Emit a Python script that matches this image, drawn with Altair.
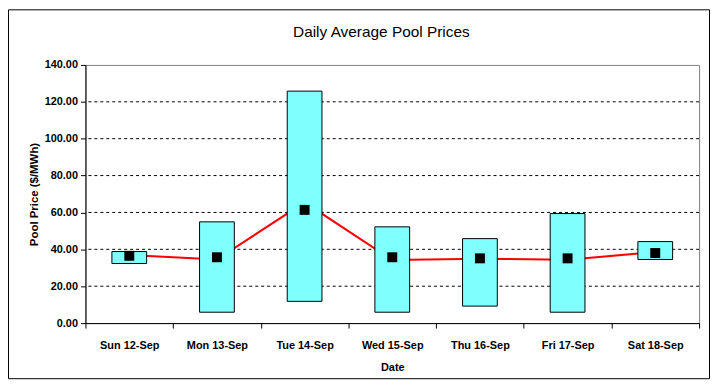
import altair as alt
import pandas as pd

days = ["Sun 12-Sep", "Mon 13-Sep", "Tue 14-Sep", "Wed 15-Sep",
        "Thu 16-Sep", "Fri 17-Sep", "Sat 18-Sep"]
low = [32.3, 5.9, 11.8, 5.9, 9.2, 5.9, 34.5]
high = [38.8, 54.9, 125.8, 52.2, 45.8, 59.4, 44.2]
avg = [36.5, 35.7, 61.4, 35.7, 35.1, 35.1, 38.0]
trend = [36.9, 34.5, 65.5, 34.2, 34.9, 34.4, 38.5]
y_ticks = [0, 20, 40, 60, 80, 100, 120, 140]
grid_vals = [20, 40, 60, 80, 100, 120]
title_text = "Daily Average Pool Prices"

df = pd.DataFrame({"Date": days, "low": low, "high": high, "avg": avg, "trend": trend})
gdf = pd.DataFrame({"g": grid_vals})

FONT = "Liberation Sans"
W, H = 618, 260

xaxis = alt.Axis(title="Date", tickBand="extent", grid=False,
                 labelAngle=0, labelFontWeight="bold", labelFontSize=11,
                 labelPadding=12, tickSize=5, titleFontSize=11,
                 titleFontWeight="bold", titlePadding=11,
                 domainColor="black", tickColor="black",
                 labelColor="black", titleColor="black")
xenc = alt.X("Date:N", sort=days,
             scale=alt.Scale(paddingInner=0, paddingOuter=0), axis=xaxis)
yscale = alt.Scale(domain=[0, 140], nice=False)
yaxis = alt.Axis(title="Pool Price ($/MWh)", values=y_ticks,
                 format=".2f", grid=False, labelFontWeight="bold",
                 labelFontSize=11, labelPadding=3, tickSize=5, labelOverlap=False,
                 titleFontSize=11.5, titleFontWeight="bold", titlePadding=5,
                 domainColor="black", tickColor="black",
                 labelColor="black", titleColor="black")

base = alt.Chart(df)

grid = alt.Chart(gdf).mark_rule(color="black", strokeDash=[3, 3], strokeWidth=1).encode(
    y=alt.Y("g:Q", scale=yscale, axis=yaxis)
)

line = base.mark_line(color="#FF0000", strokeWidth=2).encode(
    x=xenc,
    y=alt.Y("trend:Q", scale=yscale, axis=yaxis),
)

bars = base.mark_bar(width=35, color="#80FFFF", stroke="black", strokeWidth=1).encode(
    x=xenc,
    y=alt.Y("high:Q", scale=yscale, axis=yaxis),
    y2="low:Q",
)

pts = base.mark_square(size=100, color="black", filled=True, opacity=1).encode(
    x=xenc,
    y=alt.Y("avg:Q", scale=yscale, axis=yaxis),
)

tdf = pd.DataFrame({"t": [title_text]})
title = alt.Chart(tdf).mark_text(font=FONT, fontSize=15.5, fontWeight="normal",
                                 color="black", baseline="alphabetic", align="center").encode(
    text="t:N", x=alt.value(W / 2 - 11), y=alt.value(-28)
)

border = alt.Chart(pd.DataFrame({"b": [0]})).mark_rect(
    fill="transparent", stroke="black", strokeWidth=1
).encode(
    x=alt.value(-77.5), x2=alt.value(W + 10.5), y=alt.value(-55.5), y2=alt.value(H + 56)
)

chart = alt.layer(grid, line, bars, pts, title, border).properties(
    width=W, height=H,
    autosize=alt.AutoSizeParams(type="none"),
    padding={"left": 78, "top": 56, "right": 12, "bottom": 58},
).configure(font=FONT).configure_view(stroke="#808080", strokeWidth=1)

chart.save("out.html", embed_options={"renderer": "svg", "actions": False})
